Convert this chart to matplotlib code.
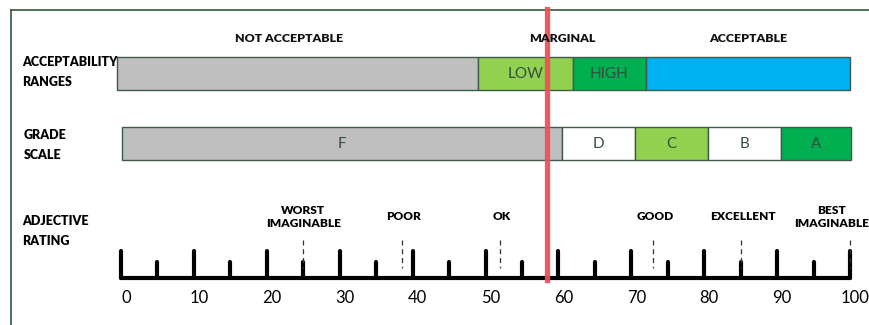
import numpy as np
import matplotlib.pyplot as plt

plt.rcParams['font.family'] = ['Lato', 'DejaVu Sans']

# Данные
range_edges = [-0.5, 49, 62, 72, 100]
range_labels = ['', 'LOW', 'HIGH', '']
range_colors = ['#bfbfbf', '#92d050', '#00b050', '#00b0f0']
range_titles = ['NOT ACCEPTABLE', 'MARGINAL', 'ACCEPTABLE']
range_title_x = [23, 60.5, 86]

grade_edges = [0.1, 60.5, 70.5, 80.5, 90.5, 100.2]
grade_labels = ['F', 'D', 'C', 'B', 'A']
grade_colors = ['#bfbfbf', '#ffffff', '#92d050', '#ffffff', '#00b050']

adj_labels = ['WORST\nIMAGINABLE', 'POOR', 'OK', 'GOOD', 'EXCELLENT', 'BEST\nIMAGINABLE']
adj_values = [25, 38.5, 52, 73, 85, 100]
adj_text_x = [25, 38.8, 52.2, 73.3, 85.3, 97.5]

major_ticks = np.arange(0, 101, 10)
minor_ticks = np.arange(5, 100, 10)
score = 58.5

px = 7.29  # пикселей на единицу шкалы
x0 = 121

fig = plt.figure(figsize=(8.69, 3.25), dpi=100)
ax = fig.add_axes([0, 0, 1, 1])
ax.set_xlim(-x0 / px, (869 - x0) / px)
ax.set_ylim(325, 0)
ax.axis('off')

edge = '#3d5c48'
txt = '#34503f'

# рамка
ax.plot([-110 / px, -110 / px], [10, 325], color='#2f5a3c', lw=1.2)
ax.plot([-110 / px, 103], [10, 10], color='#2f5a3c', lw=1.2)

# шкала приемлемости
for i in range(len(range_colors)):
    w = range_edges[i + 1] - range_edges[i]
    ax.barh(73.5, w, left=range_edges[i], height=33, color=range_colors[i],
            edgecolor=edge, lw=1)
    if range_labels[i]:
        ax.text(range_edges[i] + w / 2, 74, range_labels[i], ha='center', va='center',
                fontsize=11, color=txt)
for t, xx in zip(range_titles, range_title_x):
    ax.text(xx, 38, t, ha='center', va='center', fontsize=8.9, fontweight='heavy',
            color='#111111')

# шкала оценок
for i in range(len(grade_colors)):
    w = grade_edges[i + 1] - grade_edges[i]
    ax.barh(143.5, w, left=grade_edges[i], height=33, color=grade_colors[i],
            edgecolor=edge, lw=1)
    ax.text(grade_edges[i] + w / 2, 144, grade_labels[i], ha='center', va='center',
            fontsize=11, color=txt)

# подписи строк
ax.text(-99 / px, 72, 'ACCEPTABILITY\nRANGES', ha='left', va='center', fontsize=9,
        fontweight='heavy', linespacing=1.75)
ax.text(-97 / px, 145, 'GRADE\nSCALE', ha='left', va='center', fontsize=9,
        fontweight='heavy', linespacing=1.75)
ax.text(-99 / px, 231, 'ADJECTIVE\nRATING', ha='left', va='center', fontsize=9,
        fontweight='heavy', linespacing=1.75)

# линейка
base = 278
ax.plot([0, 100], [base, base], color='black', lw=3, solid_capstyle='round')
for t in major_ticks:
    ax.plot([t, t], [base, 251], color='black', lw=3, solid_capstyle='round')
    ax.text(t + 0.7, 298, str(t), ha='center', va='center', fontsize=12)
for t in minor_ticks:
    ax.plot([t, t], [base, 261.5], color='black', lw=3, solid_capstyle='round')

# прилагательные
for lab, v, tx in zip(adj_labels, adj_values, adj_text_x):
    ax.plot([v, v], [240, 268], color='#333333', lw=0.9, ls=(0, (4, 3)))
    ax.text(tx, 217, lab, ha='center', va='center', fontsize=8.6, fontweight='heavy',
            linespacing=1.3)

# текущий балл
ax.plot([score, score], [9, 280], color='#f0505a', lw=3.8, alpha=0.95)

fig.savefig('out.png', dpi=100)
